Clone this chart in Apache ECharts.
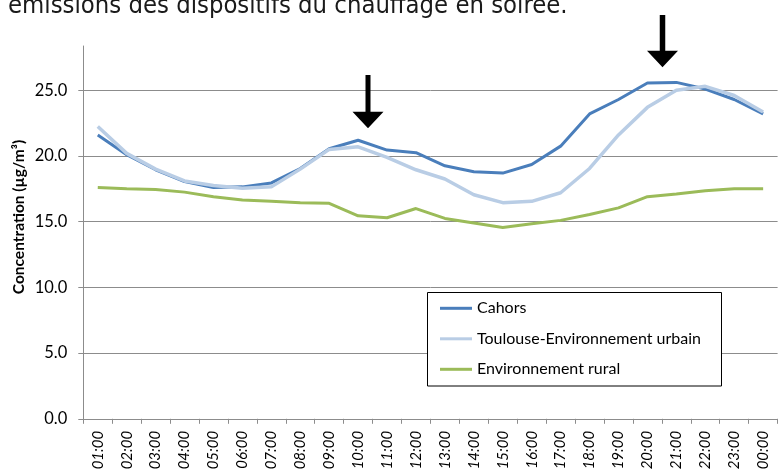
<!DOCTYPE html>
<html>
<head>
<meta charset="utf-8">
<script src="https://cdn.jsdelivr.net/npm/echarts@6/dist/echarts.min.js"></script>
<style>
html,body{margin:0;padding:0;background:#fff;}
#chart{width:779px;height:471px;}
</style>
</head>
<body>
<div id="chart"></div>
<script>
var hours = ['01:00','02:00','03:00','04:00','05:00','06:00','07:00','08:00','09:00','10:00','11:00','12:00',
             '13:00','14:00','15:00','16:00','17:00','18:00','19:00','20:00','21:00','22:00','23:00','00:00'];
var cahors = [21.6,20.1,18.95,18.05,17.6,17.65,17.95,19.05,20.55,21.2,20.45,20.25,
              19.25,18.8,18.7,19.35,20.75,23.2,24.3,25.55,25.6,25.1,24.3,23.2];
var toulouse = [22.25,20.2,19.0,18.1,17.75,17.55,17.65,19.0,20.5,20.7,19.9,18.95,
                18.25,17.05,16.45,16.55,17.2,19.05,21.6,23.7,25.0,25.3,24.6,23.35];
var rural = [17.6,17.5,17.45,17.25,16.9,16.65,16.55,16.45,16.4,15.45,15.3,16.0,
             15.25,14.9,14.55,14.85,15.1,15.55,16.05,16.9,17.1,17.35,17.5,17.5];
var seriesNames = ['Cahors','Toulouse-Environnement urbain','Environnement rural'];
var yTicks = [0,5,10,15,20,25];

var chart = echarts.init(document.getElementById('chart'), null, {renderer:'canvas'});
var baseFont = 'Lato, "Open Sans", sans-serif';
var gridColor = '#8c8c8c';

function arrow(cx, top, headTop, tip, shaftW, headW){
  return {
    type:'polygon', z:50,
    shape:{points:[[cx-shaftW/2,top],[cx+shaftW/2,top],[cx+shaftW/2,headTop],[cx+headW/2,headTop],
                   [cx,tip],[cx-headW/2,headTop],[cx-shaftW/2,headTop]]},
    style:{fill:'#000'}
  };
}

chart.setOption({
  animation:false,
  backgroundColor:'#fff',
  grid:{left:83.3, right:1.4, top:46, bottom:52.2, containLabel:false, outerBoundsMode:'none'},
  xAxis:{
    type:'category', data:hours, boundaryGap:true,
    axisLine:{show:true, lineStyle:{color:gridColor, width:1}},
    axisTick:{show:true, interval:0, length:5, lineStyle:{color:gridColor}},
    axisLabel:{interval:0, rotate:90, margin:12, fontSize:15, fontStyle:'italic', color:'#000', fontFamily:baseFont},
    splitLine:{show:false}
  },
  yAxis:{
    type:'value', min:0, max:28.37, interval:5,
    axisLine:{show:true, lineStyle:{color:gridColor, width:1}},
    axisTick:{show:true, length:5, inside:false, lineStyle:{color:gridColor}},
    axisLabel:{margin:16, fontSize:16.5, color:'#000', fontFamily:baseFont, showMaxLabel:false,
               formatter:function(v){ return yTicks.indexOf(v) >= 0 ? v.toFixed(1) : ''; }},
    splitLine:{show:true, showMaxLine:false, lineStyle:{color:gridColor, width:1}}
  },
  legend:{
    data:seriesNames, orient:'vertical', left:440, top:299.8, padding:0,
    itemWidth:32, itemHeight:3, itemGap:13.5, icon:'rect', z:30,
    textStyle:{fontSize:16, color:'#000', fontFamily:baseFont, lineHeight:17}
  },
  graphic:[
    {type:'rect', z:20, shape:{x:427.5, y:292.5, width:294, height:93.5},
     style:{fill:'#fff', stroke:'#000', lineWidth:1}},
    {type:'text', z:50, x:19, y:217, rotation:Math.PI/2,
     style:{text:'Concentration (µg/m³)', fontSize:15.5, fontWeight:'bold', fontFamily:baseFont,
            fill:'#000', align:'center', verticalAlign:'middle'}},
    {type:'text', z:50, x:8, y:-6,
     style:{text:'émissions des dispositifs du chauffage en soirée.', fontSize:25.4,
            fontFamily:'"Liberation Sans Narrow", "DejaVu Sans Condensed", sans-serif',
            fill:'#1a1a1a', align:'left', verticalAlign:'top'}},
    arrow(368, 75, 111.7, 128.3, 5, 31),
    arrow(662.5, 15, 50.7, 67.3, 5.5, 31)
  ],
  series:[
    {name:seriesNames[0], type:'line', data:cahors, symbol:'none', smooth:false, z:3,
     lineStyle:{color:'#4A7EBB', width:3}, itemStyle:{color:'#4A7EBB'}},
    {name:seriesNames[1], type:'line', data:toulouse, symbol:'none', smooth:false, z:4,
     lineStyle:{color:'#B9CDE5', width:3.5}, itemStyle:{color:'#B9CDE5'}},
    {name:seriesNames[2], type:'line', data:rural, symbol:'none', smooth:false, z:5,
     lineStyle:{color:'#9BBB59', width:3}, itemStyle:{color:'#9BBB59'}}
  ]
});
</script>
</body>
</html>
